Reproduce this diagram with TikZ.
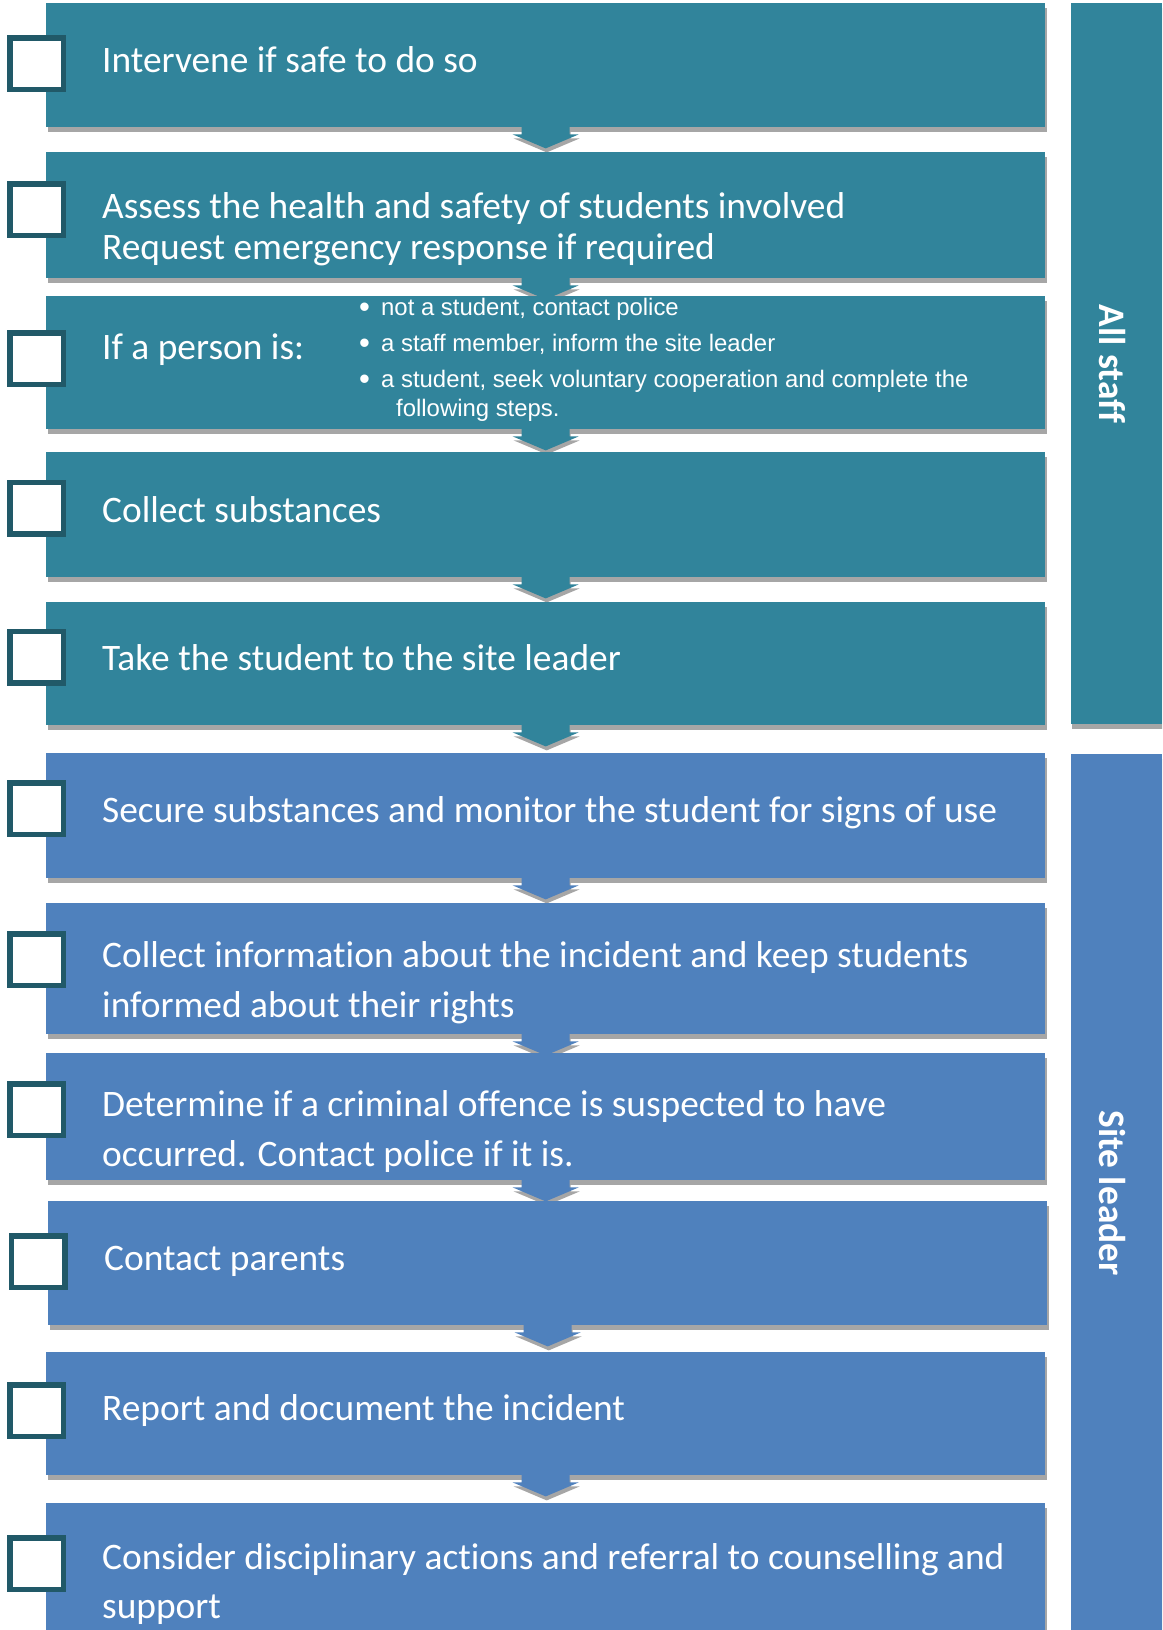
\documentclass[tikz,border=0pt]{standalone}
\usepackage{fontspec}
\setmainfont[Ligatures=NoCommon]{Carlito}
\newfontfamily\arialf{Liberation Sans}
\usetikzlibrary{shadows}
\definecolor{tealc}{HTML}{31849B}
\definecolor{bluec}{HTML}{4F81BD}
\definecolor{darkc}{HTML}{215968}
\definecolor{shadowc}{HTML}{A6A6A6}
\newcommand\bulletmark{\makebox[22pt][l]{\fontsize{31}{31}\selectfont\raisebox{-2.5pt}{•}}}
\begin{document}
\begin{tikzpicture}[x=1pt,y=-1pt,
  flowbox/.style={anchor=north west, inner sep=0pt, minimum width=999pt, draw=none,
    drop shadow={shadow xshift=2pt, shadow yshift=-5pt, fill=shadowc, opacity=1}},
  tealbox/.style={flowbox, fill=tealc},
  bluebox/.style={flowbox, fill=bluec},
  sidebar/.style={anchor=north west, inner sep=0pt, minimum width=91pt, draw=none,
    drop shadow={shadow xshift=1pt, shadow yshift=-5pt, fill=shadowc, opacity=1}},
  checkbox/.style={draw=darkc, fill=white, line width=5.5pt, minimum width=53.5pt,
    minimum height=51.5pt, inner sep=0pt},
  steptext/.style={anchor=base west, inner sep=0pt, text=white,
    font=\fontsize{37.4}{37.4}\selectfont},
  bullettext/.style={anchor=base west, inner sep=0pt, text=white,
    font=\arialf\fontsize{23.9}{23.9}\selectfont},
  sidetext/.style={rotate=-90, anchor=base, inner sep=0pt, text=white,
    font=\bfseries\fontsize{37.4}{37.4}\selectfont},
  downtab/.pic={
    \fill[shadowc] (-23,3) -- (25,3) -- (25,11) -- (34,11) -- (1,25) -- (-32,11) -- (-23,11) -- cycle;
    \path[pic actions] (-24,-1) -- (24,-1) -- (24,7) -- (33,7) -- (0,21) -- (-33,7) -- (-24,7) -- cycle;
  }
]
\useasboundingbox (0,0) rectangle (1162,1630);
\clip (0,0) rectangle (1162,1630);
\fill[white] (0,0) rectangle (1162,1630);

% side bars
\node[sidebar, fill=tealc, minimum height=721pt] (allbar) at (1071,3) {};
\node[sidebar, fill=bluec, minimum height=900pt] (sitebar) at (1071,754) {};
\node[sidetext] (alllabel) at (1099,364) {All staff};
\node[sidetext] (sitelabel) at (1099,1193) {Site leader};

% step boxes
\node[tealbox, minimum height=124pt] (b1) at (46,3) {};
\pic[fill=tealc] at (b1.south) {downtab};
\node[tealbox, minimum height=126pt] (b2) at (46,152) {};
\pic[fill=tealc] at (b2.south) {downtab};
\node[tealbox, minimum height=133pt] (b3) at (46,296) {};
\pic[fill=tealc] at (b3.south) {downtab};
\node[tealbox, minimum height=125pt] (b4) at (46,452) {};
\pic[fill=tealc] at (b4.south) {downtab};
\node[tealbox, minimum height=123pt] (b5) at (46,602) {};
\pic[fill=tealc] at (b5.south) {downtab};
\node[bluebox, minimum height=125pt] (b6) at (46,753) {};
\pic[fill=bluec] at (b6.south) {downtab};
\node[bluebox, minimum height=131pt] (b7) at (46,903) {};
\pic[fill=bluec] at (b7.south) {downtab};
\node[bluebox, minimum height=127pt] (b8) at (46,1053) {};
\pic[fill=bluec] at (b8.south) {downtab};
\node[bluebox, minimum height=124pt] (b9) at (48,1201) {};
\pic[fill=bluec] at (b9.south) {downtab};
\node[bluebox, minimum height=123pt] (b10) at (46,1352) {};
\pic[fill=bluec] at (b10.south) {downtab};
\node[bluebox, minimum height=140pt] (b11) at (46,1503) {};

% texts
\node[steptext] (t1) at (102,72) {Intervene if safe to do so};
\node[steptext] (t2a) at (102,218) {Assess the health and safety of students involved};
\node[steptext] (t2b) at (102,259) {Request emergency response if required};
\node[steptext] (t3) at (102,359) {If a person is:};
\node[bullettext] (t3a) at (359,315) {\bulletmark not a student, contact police};
\node[bullettext] (t3b) at (359,351) {\bulletmark a staff member, inform the site leader};
\node[bullettext] (t3c) at (359,387) {\bulletmark a student, seek voluntary cooperation and complete the};
\node[bullettext] (t3d) at (396,416) {following steps.};
\node[steptext] (t4) at (102,522) {Collect substances};
\node[steptext] (t5) at (102,670) {Take the student to the site leader};
\node[steptext] (t6) at (102,822) {Secure substances and monitor the student for signs of use};
\node[steptext] (t7a) at (102,967) {Collect information about the incident and keep students};
\node[steptext] (t7b) at (102,1017) {informed about their rights};
\node[steptext] (t8a) at (102,1116) {Determine if a criminal offence is suspected to have};
\node[steptext] (t8b) at (102,1166) {occurred. Contact police if it is.};
\node[steptext] (t9) at (104,1270) {Contact parents};
\node[steptext] (t10) at (102,1420) {Report and document the incident};
\node[steptext] (t11a) at (102,1569) {Consider disciplinary actions and referral to counselling and};
\node[steptext] (t11b) at (102,1618) {support};

% check boxes
\node[checkbox] (cb1) at (36.5,63.5) {};
\node[checkbox] (cb2) at (36.5,209.5) {};
\node[checkbox] (cb3) at (36.5,358.5) {};
\node[checkbox] (cb4) at (36.5,508) {};
\node[checkbox] (cb5) at (36.5,657) {};
\node[checkbox] (cb6) at (36.5,808.5) {};
\node[checkbox] (cb7) at (36.5,959.5) {};
\node[checkbox] (cb8) at (36.5,1109.5) {};
\node[checkbox] (cb9) at (38,1261.5) {};
\node[checkbox] (cb10) at (36.5,1410.5) {};
\node[checkbox] (cb11) at (36.5,1563.5) {};
\end{tikzpicture}
\end{document}
